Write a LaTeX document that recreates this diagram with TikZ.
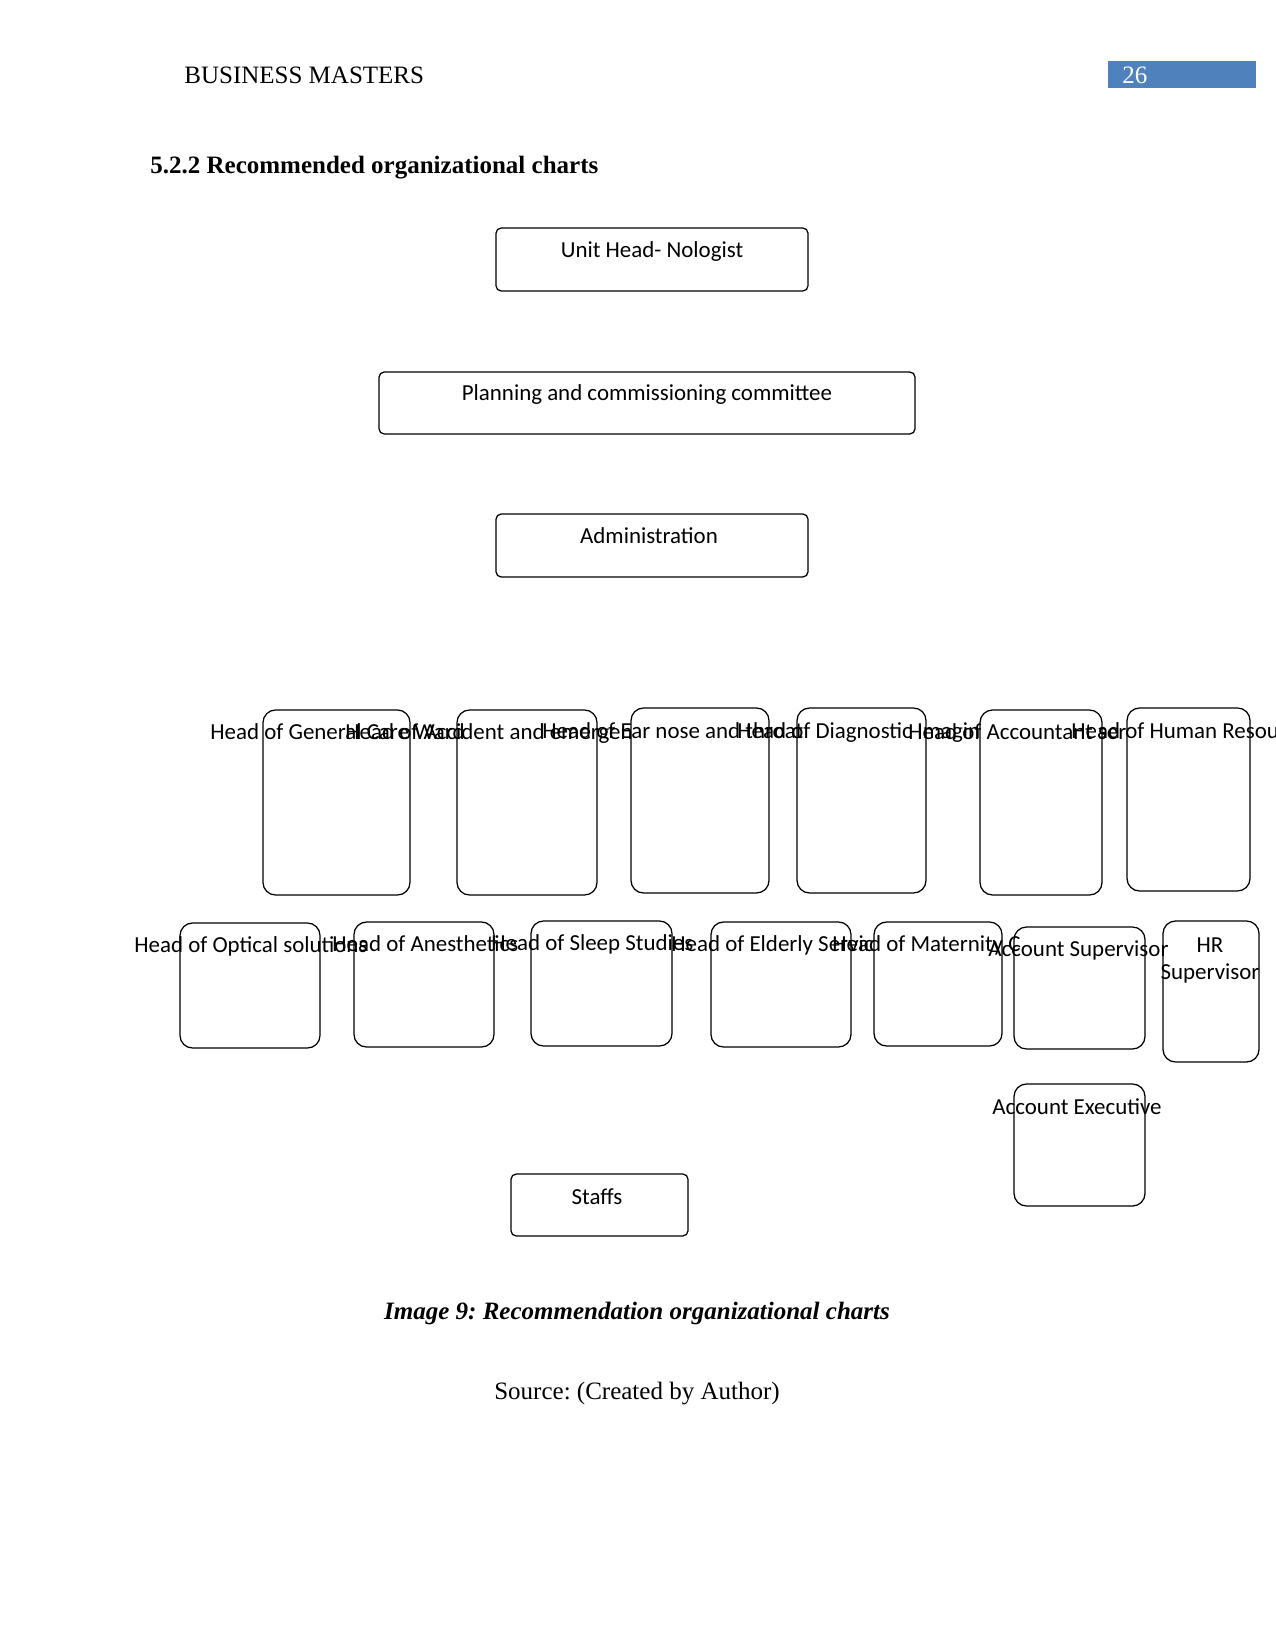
\documentclass[tikz,border=0pt]{standalone}
\usepackage{fontspec}
\setmainfont{Liberation Serif}
\newfontfamily\calib{Carlito}
\usetikzlibrary{fit}
\definecolor{hdrblue}{HTML}{4F81BD}
\frenchspacing
\begin{document}
\begin{tikzpicture}[x=0.48pt,y=-0.48pt,
 bigbox/.style={draw, line width=0.6pt, rounded corners=2.5pt, inner sep=0pt},
 smallbox/.style={draw, line width=0.6pt, rounded corners=6pt, inner sep=0pt},
 lbl/.style={font=\calib\fontsize{11}{13}\selectfont, inner sep=0pt, anchor=base west},
 clbl/.style={font=\calib\fontsize{11}{13}\selectfont, inner sep=0pt, anchor=base},
 serif/.style={font=\fontsize{12}{14}\selectfont, inner sep=0pt}]
\useasboundingbox (0,0) rectangle (1275,1650);
\fill[white] (0,0) rectangle (1275,1650);

% header
\node[serif, anchor=base west] (hdr) at (184,84) {BUSINESS MASTERS};
\node[fill=hdrblue, inner sep=0pt, fit={(1108,61) (1256,88)}] (pgbox) {};
\node[serif, anchor=base west, text=white] (pgnum) at (1122,84) {26};
\node[font={\fontsize{12}{14}\selectfont\bfseries}, inner sep=0pt, anchor=base west] (heading) at (150,174) {5.2.2 Recommended organizational charts};

% top boxes
\node[bigbox, fit={(496,228) (808,291)}] (unit) {};
\node[clbl] (unitT) at (652,258) {Unit Head- Nologist};
\node[bigbox, fit={(379,372) (915,434)}] (plan) {};
\node[clbl] (planT) at (647,401) {Planning and commissioning committee};
\node[bigbox, fit={(496,514) (808,577)}] (admin) {};
\node[clbl] (adminT) at (649,543) {Administration};

% row 1
\node[smallbox, fit={(263,710) (410,895)}] (bA) {};
\node[smallbox, fit={(457,710) (597,895)}] (bB) {};
\node[smallbox, fit={(631,708) (769,893)}] (bC) {};
\node[smallbox, fit={(797,708) (926,893)}] (bD) {};
\node[smallbox, fit={(980,710) (1102,895)}] (bE) {};
\node[smallbox, fit={(1127,708) (1250,891)}] (bF) {};
\node[lbl] (tA) at (210,739) {Head of General Care Ward};
\node[lbl] (tB) at (345,739) {Head of Accident and emergen};
\node[lbl] (tC) at (542,738) {Head of Ear nose and throat};
\node[lbl] (tD) at (737,738) {Head of Diagnostic Imagin};
\node[lbl] (tE) at (908,739) {Head of Accountant ser};
\node[lbl] (tF) at (1071,738) {Head of Human Resou};

% row 2
\node[smallbox, fit={(180,923) (320,1048)}] (bG) {};
\node[smallbox, fit={(354,922) (494,1047)}] (bH) {};
\node[smallbox, fit={(531,921) (672,1046)}] (bI) {};
\node[smallbox, fit={(711,922) (851,1047)}] (bJ) {};
\node[smallbox, fit={(874,922) (1002,1046)}] (bK) {};
\node[smallbox, fit={(1014,927) (1145,1049)}] (bL) {};
\node[smallbox, fit={(1163,921) (1259,1062)}] (bM) {};
\node[lbl] (tG) at (134,952) {Head of Optical solutions};
\node[lbl] (tH) at (332,951) {Head of Anesthetics};
\node[lbl] (tI) at (491,950) {Head of Sleep Studies};
\node[lbl] (tJ) at (671,951) {Head of Elderly Servic};
\node[lbl] (tK) at (832,951) {Head of Maternity C};
\node[lbl] (tL) at (988,956) {Account Supervisor};
\node[clbl, align=center, anchor=north] (tM) at (1210,937) {HR\\Supervisor};

% row 3
\node[smallbox, fit={(1014,1084) (1145,1206)}] (bN) {};
\node[lbl] (tN) at (992,1114) {Account Executive};
\node[bigbox, fit={(511,1174) (688,1236)}] (staff) {};
\node[clbl] (staffT) at (597,1204) {Staffs};

% caption
\node[font={\fontsize{12}{14}\selectfont\bfseries\itshape}, inner sep=0pt, anchor=base] (cap) at (637,1319) {Image 9: Recommendation organizational charts};
\node[serif, anchor=base] (src) at (637,1399) {Source: (Created by Author)};
\end{tikzpicture}
\end{document}
